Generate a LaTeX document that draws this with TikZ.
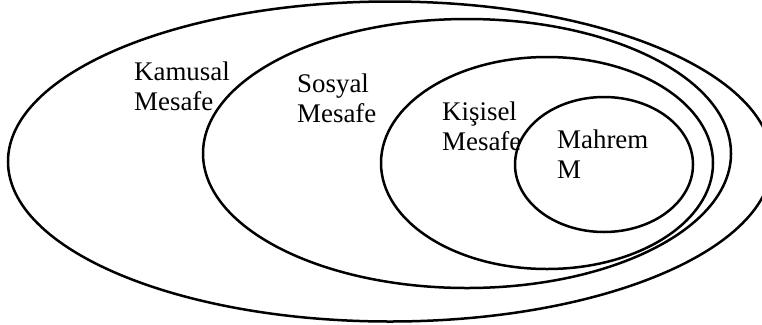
\documentclass[tikz,border=0pt]{standalone}
\usepackage{fontspec}
\setmainfont{Liberation Serif}
\begin{document}
\begin{tikzpicture}[x=1bp,y=-1bp,
  ring/.style={draw=black, line width=2.5bp},
  lbl/.style={anchor=base west, align=left, inner sep=0pt, font=\fontsize{27}{30}\selectfont}]
\useasboundingbox (0,0) rectangle (762,324);
\draw[ring] (390,161.5) ellipse [x radius=382, y radius=160];
\draw[ring] (467,153.5) ellipse [x radius=264, y radius=134.5];
\draw[ring] (547,163) ellipse [x radius=166, y radius=106];
\draw[ring] (604,164.5) ellipse [x radius=89, y radius=67.5];
\node[lbl] (kamusal) at (134,110) {Kamusal\\Mesafe};
\node[lbl] (sosyal) at (297,122) {Sosyal\\Mesafe};
\node[lbl] (kisisel) at (442,150) {Kişisel\\Mesafe};
\node[lbl] (mahrem) at (557,178) {Mahrem\\M};
\end{tikzpicture}
\end{document}
